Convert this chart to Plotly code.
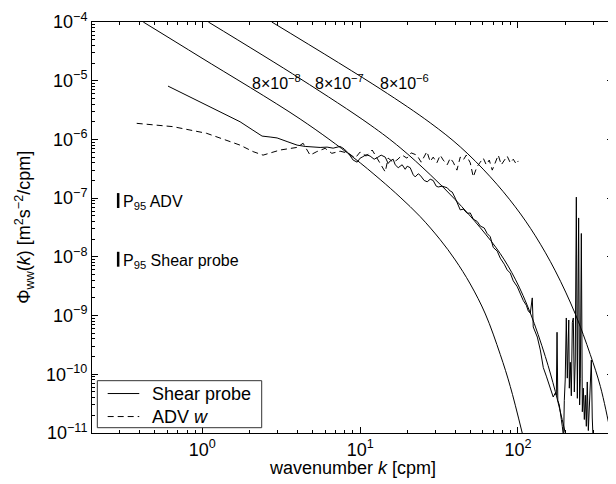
import math
import plotly.graph_objects as go

# ---------------- data ----------------
shear_k = [0.606, 1.734, 2.066, 2.391, 2.688, 2.977, 3.444, 3.986, 4.48, 5.035,
           5.577, 6.176, 6.744, 7.467, 7.914, 8.391, 8.768, 9.028, 9.572, 10.0,
           10.30, 10.92, 11.57, 12.27, 12.82, 13.59, 14.41, 15.05, 15.50, 16.19,
           16.67, 17.42, 18.46, 19.29, 19.86, 20.75, 21.69, 22.33, 23.33, 24.02,
           25.46, 26.60, 27.79, 29.03, 30.34, 31.24, 33.11, 35.62, 37.22, 38.32,
           40.04, 41.83, 43.07, 45.0, 47.71, 49.84, 52.07, 55.21, 57.68, 61.14,
           63.78, 66.74, 69.71, 73.90, 77.23, 81.87, 85.41, 89.38, 93.37, 98.99,
           103.3, 108.1, 112.9, 116.2, 119.7, 123.2, 124.9, 128.8, 132.6, 138.5,
           144.7, 151.2, 155.7, 160.0, 165.0, 167.2, 172.4, 175.0, 176.8, 178.8,
           182.7, 185.4, 188.2, 190.9, 194.6, 196.6, 199.2, 202.4, 205.4, 209.8,
           211.5, 214.6, 217.8, 221.0, 224.2, 227.5, 230.6, 234.3, 237.8, 242.3,
           245.8, 248.4, 252.0, 255.7, 259.5, 263.3, 267.2, 271.1, 274.8, 279.1,
           283.3, 287.0, 291.6, 295.5, 300.3]
shear_phi = [8.1e-6, 2.0e-6, 1.47e-6, 1.14e-6, 1.10e-6, 1.06e-6, 9.2e-7, 8.0e-7, 7.6e-7, 7.4e-7,
             7.3e-7, 7.4e-7, 7.1e-7, 7.6e-7, 6.9e-7, 5.9e-7, 5.0e-7, 4.45e-7, 4.1e-7, 4.8e-7,
             5.0e-7, 5.5e-7, 5.2e-7, 4.6e-7, 4.9e-7, 5.4e-7, 5.0e-7, 3.9e-7, 4.3e-7, 4.6e-7,
             3.7e-7, 3.3e-7, 3.7e-7, 3.1e-7, 3.5e-7, 3.3e-7, 2.5e-7, 2.3e-7, 2.6e-7, 2.45e-7,
             2.0e-7, 1.9e-7, 2.1e-7, 2.0e-7, 1.6e-7, 1.55e-7, 1.6e-7, 1.5e-7, 1.32e-7, 1.27e-7,
             1.0e-7, 7.6e-8, 6.3e-8, 6.5e-8, 5.5e-8, 5.6e-8, 4.4e-8, 4.0e-8, 3.35e-8, 3.1e-8,
             2.5e-8, 2.2e-8, 1.45e-8, 1.25e-8, 9.5e-9, 7.5e-9, 6.0e-9, 5.3e-9, 3.9e-9, 3.1e-9,
             2.3e-9, 1.8e-9, 1.5e-9, 1.2e-9, 1.1e-9, 2.0e-9, 6.4e-10, 5.0e-10, 4.3e-10, 2.6e-10,
             1.3e-10, 9.3e-11, 7.4e-11, 6.0e-11, 4.8e-11, 4.1e-11, 4.8e-11, 4.4e-11, 5.2e-10, 3.6e-11,
             3.0e-11, 2.0e-11, 1.7e-11, 1.3e-11, 8.2e-12, 3.6e-11, 8.0e-11, 9.1e-10, 8.6e-11, 8.4e-10,
             5.8e-11, 1.6e-10, 4.3e-11, 7.7e-10, 9.1e-10, 5.0e-11, 1.75e-10, 1.04e-7, 3.9e-11, 4.6e-8,
             3.0e-11, 8.6e-11, 2.5e-8, 2.3e-11, 5.8e-11, 1.7e-11, 4.4e-11, 1.3e-11, 7.4e-11, 1.1e-11,
             3.0e-11, 1.1e-10, 1.75e-10, 1.8e-11, 6.2e-12]

adv_k = [0.384, 0.652, 1.066, 1.734, 2.097, 2.426, 3.110, 3.968, 4.351, 4.818,
         5.314, 6.001, 6.615, 7.467, 8.467, 9.295, 10.0, 10.92, 11.92, 13.01,
         14.41, 15.05, 16.19, 17.09, 18.46, 19.78, 21.05, 22.88, 24.37, 26.48,
         27.79, 29.03, 30.64, 32.15, 33.60, 35.62, 37.22, 38.88, 41.04, 43.07,
         45.00, 47.01, 49.84, 52.07, 54.95, 57.68, 60.26, 62.95, 65.77, 68.71,
         71.80, 75.01, 78.38, 81.87, 85.41, 89.38, 93.37, 97.54, 100.4]
adv_phi = [1.88e-6, 1.65e-6, 1.27e-6, 8.0e-7, 6.2e-7, 5.4e-7, 6.6e-7, 7.3e-7, 8.6e-7, 5.4e-7,
           6.2e-7, 7.05e-7, 5.8e-7, 6.3e-7, 5.8e-7, 4.8e-7, 6.1e-7, 5.2e-7, 6.6e-7, 4.45e-7,
           2.8e-7, 4.8e-7, 4.1e-7, 4.45e-7, 5.4e-7, 4.8e-7, 5.9e-7, 5.4e-7, 4.1e-7, 6.2e-7,
           4.2e-7, 5.0e-7, 4.0e-7, 5.4e-7, 4.45e-7, 3.7e-7, 4.8e-7, 4.1e-7, 3.0e-7, 5.0e-7,
           4.45e-7, 5.4e-7, 4.0e-7, 2.3e-7, 3.4e-7, 4.1e-7, 4.8e-7, 3.7e-7, 4.45e-7, 3.0e-7,
           4.1e-7, 5.4e-7, 3.7e-7, 4.45e-7, 5.2e-7, 4.0e-7, 4.6e-7, 3.8e-7, 4.3e-7]

# model spectra for the three dissipation rates
model_labels = ["8×10<sup>−8</sup>", "8×10<sup>−7</sup>", "8×10<sup>−6</sup>"]
model_k_1 = [0.4225, 0.967, 4.164, 9.028, 13.39, 17.91, 24.02, 32.15, 40.04, 49.84,
             62.14, 77.23, 89.38, 106.5]
model_phi_1 = [1.0e-4, 2.54e-5, 2.23e-6, 4.96e-7, 2.08e-7, 1.04e-7, 4.84e-8, 1.96e-8, 8.85e-9, 3.45e-9,
               1.065e-9, 2.17e-10, 6.2e-11, 9.9e-12]
model_k_2 = [1.092, 4.164, 11.57, 17.91, 27.79, 40.04, 57.68, 77.23, 96.14, 119.7,
             149.0, 172.4, 199.2]
model_phi_2 = [1.0e-4, 1.086e-5, 1.773e-6, 7.25e-7, 2.51e-7, 9.43e-8, 3.14e-8, 1.134e-8, 4.17e-9, 1.107e-9,
               2.01e-10, 5.09e-11, 1.02e-11]
model_k_3 = [2.755, 13.39, 27.79, 43.07, 66.74, 96.14, 128.8, 172.4, 230.6, 287.0,
             332.6, 384.8, 402.2]
model_phi_3 = [1.0e-4, 7.28e-6, 1.918e-6, 7.48e-7, 2.31e-7, 7.11e-8, 2.28e-8, 5.77e-9, 1.069e-9, 2.18e-10,
               6.22e-11, 1.065e-11, 5.75e-12]

# 95 % confidence bars
p95_k = [0.293, 0.293]
p95_adv_phi = [6.8e-8, 1.22e-7]
p95_shear_phi = [6.8e-9, 1.22e-8]

legend_names = ["Shear probe", "ADV <i>w</i>"]

x_tick_vals = [1, 10, 100]
x_tick_text = ["10<sup>0</sup>", "10<sup>1</sup>", "10<sup>2</sup>"]
y_tick_vals = [1e-11, 1e-10, 1e-9, 1e-8, 1e-7, 1e-6, 1e-5, 1e-4]
y_tick_text = ["10<sup>−11</sup>", "10<sup>−10</sup>", "10<sup>−9</sup>", "10<sup>−8</sup>",
               "10<sup>−7</sup>", "10<sup>−6</sup>", "10<sup>−5</sup>", "10<sup>−4</sup>"]

FONT = "Liberation Sans, Arial, Helvetica, sans-serif"
DASH = "6px,4px"

fig = go.Figure()

fig.add_trace(go.Scatter(x=shear_k, y=shear_phi, mode="lines", name=legend_names[0],
                         showlegend=False, line=dict(color="black", width=1)))
fig.add_trace(go.Scatter(x=adv_k, y=adv_phi, mode="lines", name=legend_names[1],
                         showlegend=False, line=dict(color="black", width=1, dash=DASH)))

for mk, mp in [(model_k_1, model_phi_1), (model_k_2, model_phi_2), (model_k_3, model_phi_3)]:
    fig.add_trace(go.Scatter(x=mk, y=mp, mode="lines", showlegend=False, hoverinfo="skip",
                             line=dict(color="black", width=1, shape="spline", smoothing=1.0)))

for bar in (p95_adv_phi, p95_shear_phi):
    fig.add_trace(go.Scatter(x=p95_k, y=bar, mode="lines", showlegend=False,
                             line=dict(color="black", width=2.5)))

minor_x = [m * 10 ** e for e in range(-1, 3) for m in range(2, 10) if 0.2 <= m * 10 ** e <= 400]
minor_y = [m * 10.0 ** e for e in range(-11, -4) for m in range(2, 10)]

axis_common = dict(type="log", showline=True, linecolor="black", linewidth=1, mirror="allticks",
                   ticks="inside", ticklen=6, tickcolor="black", showgrid=False, zeroline=False,
                   automargin=False,
                   tickfont=dict(family=FONT, size=18, color="black"))

fig.update_xaxes(range=[math.log10(0.2), math.log10(400)], tickmode="array",
                 tickvals=x_tick_vals, ticktext=x_tick_text,
                 minor=dict(tickmode="array", tickvals=minor_x, ticks="inside", ticklen=3,
                            tickcolor="black", showgrid=False),
                 **axis_common)
fig.update_yaxes(range=[-11, -4], tickmode="array", tickvals=y_tick_vals, ticktext=y_tick_text,
                 minor=dict(tickmode="array", tickvals=minor_y, ticks="inside", ticklen=3,
                            tickcolor="black", showgrid=False),
                 **axis_common)

ann = []
label_x = [0.3025, 0.702, 1.114]
for lx, txt in zip(label_x, model_labels):
    ann.append(dict(x=lx, y=-5.02, xref="x", yref="y", text=txt, showarrow=False,
                    xanchor="left", yanchor="middle", font=dict(family=FONT, size=16, color="black")))
ann.append(dict(x=-0.5155, y=-7.08, xref="x", yref="y", text="P<sub>95</sub> ADV", showarrow=False,
                xanchor="left", yanchor="middle", font=dict(family=FONT, size=16, color="black")))
ann.append(dict(x=-0.5155, y=-8.08, xref="x", yref="y", text="P<sub>95</sub> Shear probe", showarrow=False,
                xanchor="left", yanchor="middle", font=dict(family=FONT, size=16, color="black")))
ann.append(dict(x=0.5, y=-0.085, xref="paper", yref="paper", text="wavenumber <i>k</i> [cpm]",
                showarrow=False, xanchor="center", yanchor="middle",
                font=dict(family=FONT, size=18, color="black")))
ann.append(dict(x=-0.13, y=0.5, xref="paper", yref="paper",
                text="Φ<sub>ww</sub>(<i>k</i>) [m<sup>2</sup>s<sup>−2</sup>/cpm]",
                showarrow=False, textangle=-90, xanchor="center", yanchor="middle",
                font=dict(family=FONT, size=18, color="black")))

# legend box drawn in plot-area (paper) coordinates
shapes = [dict(type="rect", xref="paper", yref="paper", x0=0.0102, x1=0.3257, y0=0.0129, y1=0.1273,
               line=dict(color="#333", width=1), fillcolor="white", layer="above")]
legend_rows_y = [0.0960, 0.0400]
legend_dash = ["solid", DASH]
for ly, nm, ds in zip(legend_rows_y, legend_names, legend_dash):
    shapes.append(dict(type="line", xref="paper", yref="paper", x0=0.0301, x1=0.0907, y0=ly, y1=ly,
                       line=dict(color="black", width=1, dash=ds), layer="above"))
    ann.append(dict(x=0.1113, y=ly, xref="paper", yref="paper", text=nm, showarrow=False,
                    xanchor="left", yanchor="middle", font=dict(family=FONT, size=18, color="black")))

# the page body adds an 8 px offset, so margins are set to place the frame
# at the reference position in the window
fig.update_layout(
    width=616, height=484,
    margin=dict(l=84, r=11, t=14, b=59, autoexpand=False),
    paper_bgcolor="white", plot_bgcolor="white",
    font=dict(family=FONT, size=18, color="black"),
    annotations=ann, shapes=shapes, showlegend=False,
)

fig.write_html("out.html")
